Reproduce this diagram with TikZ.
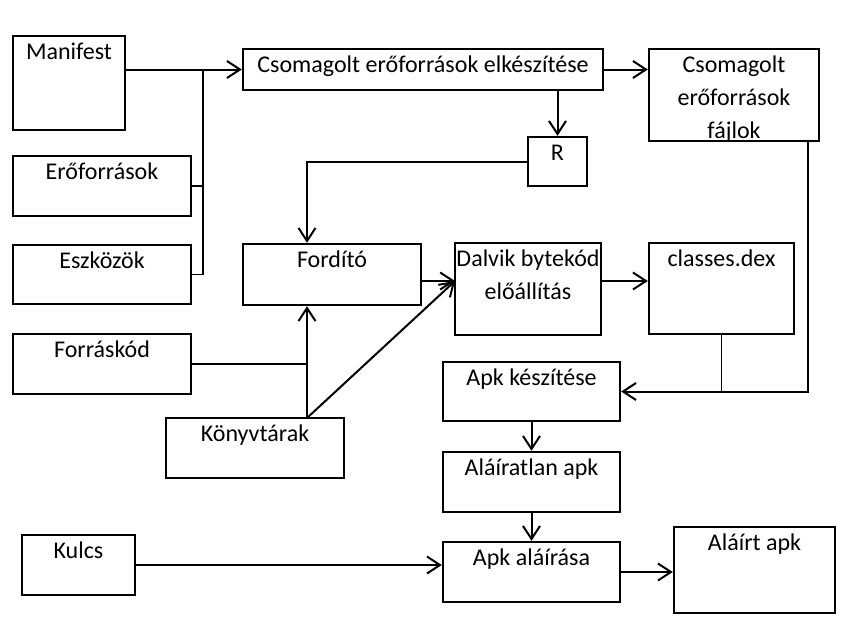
\documentclass[tikz,border=0pt]{standalone}
\usepackage{fontspec}
\setmainfont{Carlito}
\usetikzlibrary{arrows.meta}

\begin{document}
\begin{tikzpicture}[
  x=1pt,
  y=-1pt,
  box/.style={draw,line width=2.4pt,inner sep=0pt},
  lbl/.style={anchor=base,yshift=-#1,align=center,font=\fontsize{24}{33}\selectfont},
  lbl/.default=25pt,
  flow/.style={line width=2pt,-{Straight Barb[length=13pt,width=17pt]}},
  merge/.style={line width=1.3pt}
]
  \useasboundingbox (0,0) rectangle (852,638);

  % Inputs
  \node[box,minimum width=112pt,minimum height=94pt,label={[lbl]north:Manifest}] (manifest) at (69,83) {};
  \node[box,minimum width=178pt,minimum height=60pt,label={[lbl]north:Erőforrások}] (eroforr) at (102,186) {};
  \node[box,minimum width=178pt,minimum height=59pt,label={[lbl]north:Eszközök}] (eszkoz) at (102,274.5) {};
  \node[box,minimum width=178pt,minimum height=60pt,label={[lbl]north:Forráskód}] (forras) at (102,364) {};
  \node[box,minimum width=178pt,minimum height=60pt,label={[lbl]north:Könyvtárak}] (konyv) at (255,448) {};
  \node[box,minimum width=113pt,minimum height=60pt,label={[lbl]north:Kulcs}] (kulcs) at (78.5,565) {};

  % Build steps
  \node[box,minimum width=360pt,minimum height=41pt,label={[lbl]north:Csomagolt erőforrások elkészítése}] (csomag) at (423,69.5) {};
  \node[box,minimum width=170pt,minimum height=92pt,label={[lbl=91pt]north:Csomagolt\\erőforrások\\fájlok}] (fajlok) at (734,95) {};
  \node[box,minimum width=59pt,minimum height=49pt,label={[lbl]north:R}] (r) at (557.5,161.5) {};
  \node[box,minimum width=178pt,minimum height=61pt,label={[lbl]north:Fordító}] (fordito) at (332,274.5) {};
  \node[box,minimum width=146pt,minimum height=92pt,label={[lbl=58pt]north:Dalvik bytekód\\előállítás}] (dalvik) at (528,289) {};
  \node[box,minimum width=145pt,minimum height=91pt,label={[lbl]north:classes.dex}] (classes) at (721.5,288.5) {};
  \node[box,minimum width=177pt,minimum height=59pt,label={[lbl]north:Apk készítése}] (apk) at (531.5,391.5) {};
  \node[box,minimum width=177pt,minimum height=60pt,label={[lbl]north:Aláíratlan apk}] (alairatlan) at (531.5,482) {};
  \node[box,minimum width=177pt,minimum height=60pt,label={[lbl]north:Apk aláírása}] (alairasa) at (531.5,572) {};
  \node[box,minimum width=161pt,minimum height=86pt,label={[lbl]north:Aláírt apk}] (alairt) at (754.5,570) {};

  % Resource packaging
  \coordinate (jn) at (203,70);
  \draw[flow] (manifest.east |- csomag.west) -- (csomag.west);
  \draw[merge] (eroforr.east) -| (jn);
  \draw[merge] (eszkoz.east) -| (jn);
  \draw[flow] (csomag.east) -- (csomag.east -| fajlok.west);
  \draw[flow] (csomag.south -| r.north) -- (r.north);

  % Compiling
  \coordinate (lib) at (307,418);
  \coordinate (din) at (455,281);
  \draw[flow] (r.west) -| (fordito.north -| lib);
  \draw[flow] (lib) -- (fordito.south -| lib);
  \draw[merge] (forras.east) -- (forras.east -| lib);
  \draw[flow] (fordito.east |- din) -- (din);
  \draw[flow] (lib) -- (din);
  \draw[flow] (dalvik.east |- din) -- (din -| classes.west);

  % Apk
  \coordinate (fj) at (808,141);
  \draw[flow] (fj) |- (apk.east);
  \draw[merge] (classes.south) -- (classes.south |- apk.east);
  \draw[flow] (apk.south) -- (alairatlan.north);
  \draw[flow] (alairatlan.south) -- (alairasa.north);
  \draw[flow] (kulcs.east) -- (kulcs.east -| alairasa.west);
  \draw[flow] (alairasa.east) -- (alairasa.east -| alairt.west);
\end{tikzpicture}
\end{document}
